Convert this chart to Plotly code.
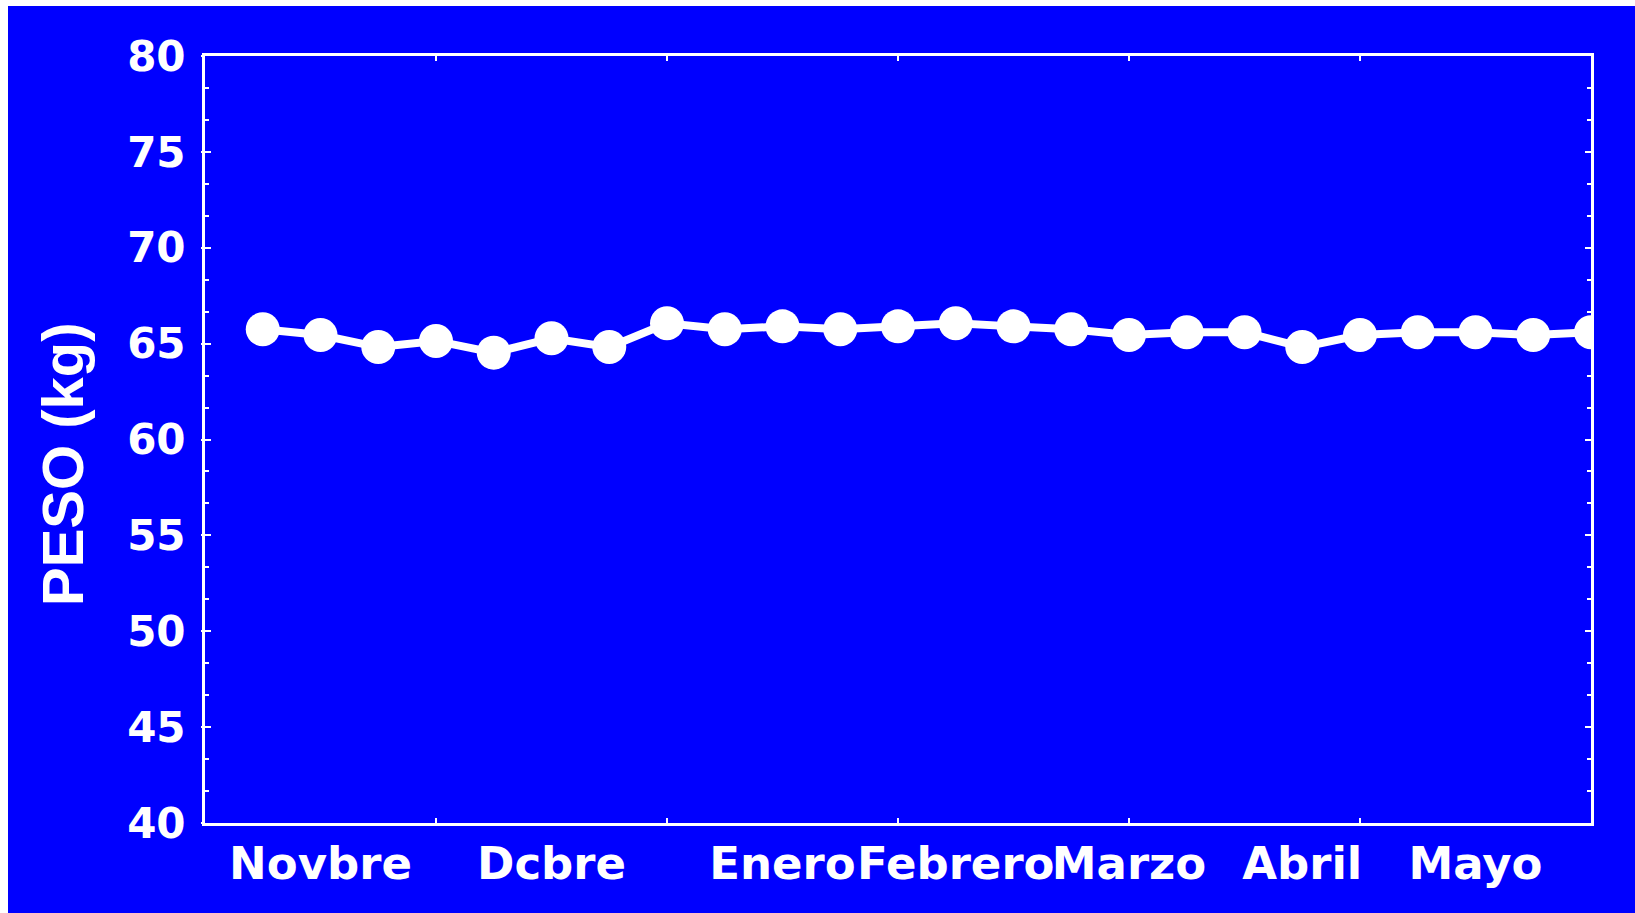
import plotly.graph_objects as go

# Weekly body-weight readings, November to May
semana = list(range(1, 25))
peso_kg = [65.75, 65.45, 64.82, 65.14, 64.53, 65.28, 64.82, 66.06,
           65.75, 65.90, 65.75, 65.90, 66.06, 65.90, 65.75, 65.45,
           65.59, 65.59, 64.82, 65.45, 65.59, 65.59, 65.45, 65.59]

# Month labels and where they sit along the week axis
mes_pos = [2, 6, 10, 13, 16, 19, 22]
mes_txt = ["Novbre", "Dcbre", "Enero", "Febrero", "Marzo", "Abril", "Mayo"]

# Tick marks along the week axis
semana_ticks = [4, 8, 12, 16, 20]
peso_ticks = [40, 45, 50, 55, 60, 65, 70, 75, 80]

AZUL = "#0000FF"
BLANCO = "#FFFFFF"
FUENTE_TITULO = "Liberation Sans"
FUENTE_TICKS = "DejaVu Sans"

W, H = 1635, 913
L, R, T, B = 205, 1591, 56, 823

fig = go.Figure()
fig.add_trace(go.Scatter(
    x=semana, y=peso_kg, mode="lines+markers",
    line=dict(color=BLANCO, width=8),
    marker=dict(color=BLANCO, size=34, line=dict(width=0)),
    cliponaxis=True, showlegend=False, hoverinfo="x+y",
))

fig.update_layout(
    width=W, height=H, autosize=False,
    margin=dict(l=L, r=W - R, t=T, b=H - B, pad=0),
    paper_bgcolor=BLANCO,
    plot_bgcolor=AZUL,
    showlegend=False,
    xaxis=dict(
        range=[0, 24], tickmode="array", tickvals=semana_ticks,
        showticklabels=False, ticks="inside", ticklen=5, tickwidth=2,
        tickcolor=BLANCO, showline=True, linecolor=BLANCO, linewidth=3,
        mirror="ticks", showgrid=False, zeroline=False, automargin=False,
    ),
    xaxis2=dict(
        range=[0, 24], overlaying="x", anchor="y", side="bottom",
        tickmode="array", tickvals=mes_pos, ticktext=mes_txt,
        tickangle=0, automargin=False,
        ticks="", showline=False, showgrid=False, zeroline=False,
        ticklabelstandoff=10,
        tickfont=dict(family=FUENTE_TICKS, size=45, color=BLANCO, weight="bold"),
    ),
    yaxis=dict(
        range=[40, 80], tickmode="array", tickvals=peso_ticks,
        ticks="inside", ticklen=6, tickwidth=2, tickcolor=BLANCO,
        minor=dict(tick0=40, dtick=5 / 3, ticks="inside", ticklen=4,
                   tickwidth=2, tickcolor=BLANCO, showgrid=False),
        showline=True, linecolor=BLANCO, linewidth=3, mirror="ticks",
        showgrid=False, zeroline=False, ticklabelstandoff=8,
        automargin=False, tickangle=0,
        tickfont=dict(family=FUENTE_TICKS, size=42, color=BLANCO, weight="bold"),
    ),
    yaxis2=dict(
        range=[40, 80], overlaying="y", anchor="x", side="left",
        tickmode="array", tickvals=peso_ticks, ticks="outside",
        ticklen=3, tickwidth=2, tickcolor=BLANCO, showticklabels=False,
        showline=False, showgrid=False, zeroline=False, automargin=False,
    ),
    shapes=[dict(
        type="rect", xref="paper", yref="paper", layer="below",
        x0=(8 - L) / (R - L), x1=1.2,
        y0=-0.3, y1=(B - 6) / (B - T),
        fillcolor=AZUL, line=dict(width=0),
    )],
    annotations=[dict(
        text="PESO (kg)", xref="paper", yref="paper",
        x=(62 - L) / (R - L), y=(B - 464) / (B - T),
        xanchor="center", yanchor="middle", textangle=-90,
        showarrow=False,
        font=dict(family=FUENTE_TITULO, size=58, color=BLANCO, weight="bold"),
    )],
)

# Invisible anchors so the overlay axes are laid out
fig.add_trace(go.Scatter(x=[None], y=[None], xaxis="x2", yaxis="y",
                         showlegend=False, hoverinfo="skip"))
fig.add_trace(go.Scatter(x=[None], y=[None], xaxis="x", yaxis="y2",
                         showlegend=False, hoverinfo="skip"))

fig.write_html("out.html")
